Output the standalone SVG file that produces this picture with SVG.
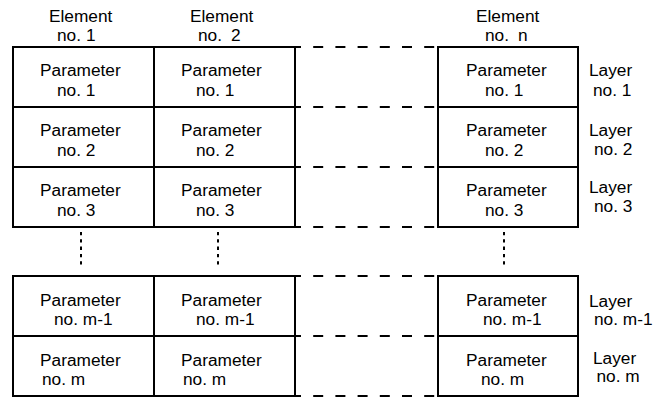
<svg xmlns="http://www.w3.org/2000/svg" width="665" height="398" viewBox="0 0 665 398">
<style>
  .cell{fill:#fff;stroke:#000;stroke-width:2}
  text{font-family:"Liberation Sans",Arial,sans-serif;font-size:17.3px;fill:#000}
  .dash{stroke:#000;stroke-width:2;stroke-dasharray:10 12.2;fill:none}
  .dot{stroke:#000;stroke-width:2;stroke-dasharray:3.3 4;fill:none}
</style>
<rect width="665" height="398" fill="#fff"/>
<g id="connectors">
  <line class="dash" x1="291" y1="47" x2="440" y2="47"/>
  <line class="dash" x1="291" y1="107" x2="440" y2="107"/>
  <line class="dash" x1="291" y1="167" x2="440" y2="167"/>
  <line class="dash" x1="291" y1="227" x2="440" y2="227"/>
  <line class="dash" x1="291" y1="276" x2="440" y2="276"/>
  <line class="dash" x1="291" y1="336" x2="440" y2="336"/>
  <line class="dash" x1="291" y1="396" x2="440" y2="396"/>
  <line class="dot" x1="81" y1="232" x2="81" y2="268"/>
  <line class="dot" x1="218" y1="232" x2="218" y2="268"/>
  <line class="dot" x1="504" y1="232" x2="504" y2="268"/>
</g>
<g id="header-element-1"><text x="49" y="21.5">Element</text><text x="57" y="40.5">no. <tspan x="86">1</tspan></text></g>
<g id="header-element-2"><text x="190" y="21.5">Element</text><text x="198" y="40.5">no. <tspan x="231">2</tspan></text></g>
<g id="header-element-n"><text x="476" y="21.5">Element</text><text x="485" y="40.5">no. <tspan x="518">n</tspan></text></g>

<g id="c1-r1"><rect class="cell" x="13" y="47" width="141" height="60"/><text x="40" y="76">Parameter</text><text x="57" y="96">no. 1</text></g>
<g id="c2-r1"><rect class="cell" x="154" y="47" width="141" height="60"/><text x="181" y="76">Parameter</text><text x="196" y="96">no. 1</text></g>
<g id="cn-r1"><rect class="cell" x="438" y="47" width="140" height="60"/><text x="466" y="76">Parameter</text><text x="485" y="96">no. 1</text></g>

<g id="c1-r2"><rect class="cell" x="13" y="107" width="141" height="60"/><text x="40" y="136">Parameter</text><text x="57" y="156">no. 2</text></g>
<g id="c2-r2"><rect class="cell" x="154" y="107" width="141" height="60"/><text x="181" y="136">Parameter</text><text x="196" y="156">no. 2</text></g>
<g id="cn-r2"><rect class="cell" x="438" y="107" width="140" height="60"/><text x="466" y="136">Parameter</text><text x="485" y="156">no. 2</text></g>

<g id="c1-r3"><rect class="cell" x="13" y="167" width="141" height="60"/><text x="40" y="196">Parameter</text><text x="57" y="216">no. 3</text></g>
<g id="c2-r3"><rect class="cell" x="154" y="167" width="141" height="60"/><text x="181" y="196">Parameter</text><text x="196" y="216">no. 3</text></g>
<g id="cn-r3"><rect class="cell" x="438" y="167" width="140" height="60"/><text x="466" y="196">Parameter</text><text x="485" y="216">no. 3</text></g>

<g id="c1-rm1"><rect class="cell" x="13" y="276" width="141" height="60"/><text x="40" y="306">Parameter</text><text x="54" y="325">no. m-1</text></g>
<g id="c2-rm1"><rect class="cell" x="154" y="276" width="141" height="60"/><text x="181" y="306">Parameter</text><text x="196" y="325">no. m-1</text></g>
<g id="cn-rm1"><rect class="cell" x="438" y="276" width="140" height="60"/><text x="466" y="306">Parameter</text><text x="483" y="325">no. m-1</text></g>

<g id="c1-rm"><rect class="cell" x="13" y="336" width="141" height="60"/><text x="40" y="366">Parameter</text><text x="42" y="385">no. m</text></g>
<g id="c2-rm"><rect class="cell" x="154" y="336" width="141" height="60"/><text x="181" y="366">Parameter</text><text x="183" y="385">no. m</text></g>
<g id="cn-rm"><rect class="cell" x="438" y="336" width="140" height="60"/><text x="466" y="366">Parameter</text><text x="481" y="385">no. m</text></g>

<g id="layer-1"><text x="589" y="76">Layer</text><text x="593" y="96">no. 1</text></g>
<g id="layer-2"><text x="589" y="136">Layer</text><text x="594" y="155">no. 2</text></g>
<g id="layer-3"><text x="589" y="193">Layer</text><text x="594" y="211.5">no. 3</text></g>
<g id="layer-m1"><text x="589" y="306.5">Layer</text><text x="594" y="325">no. m-1</text></g>
<g id="layer-m"><text x="593" y="363.5">Layer</text><text x="596.5" y="382">no. m</text></g>
</svg>
